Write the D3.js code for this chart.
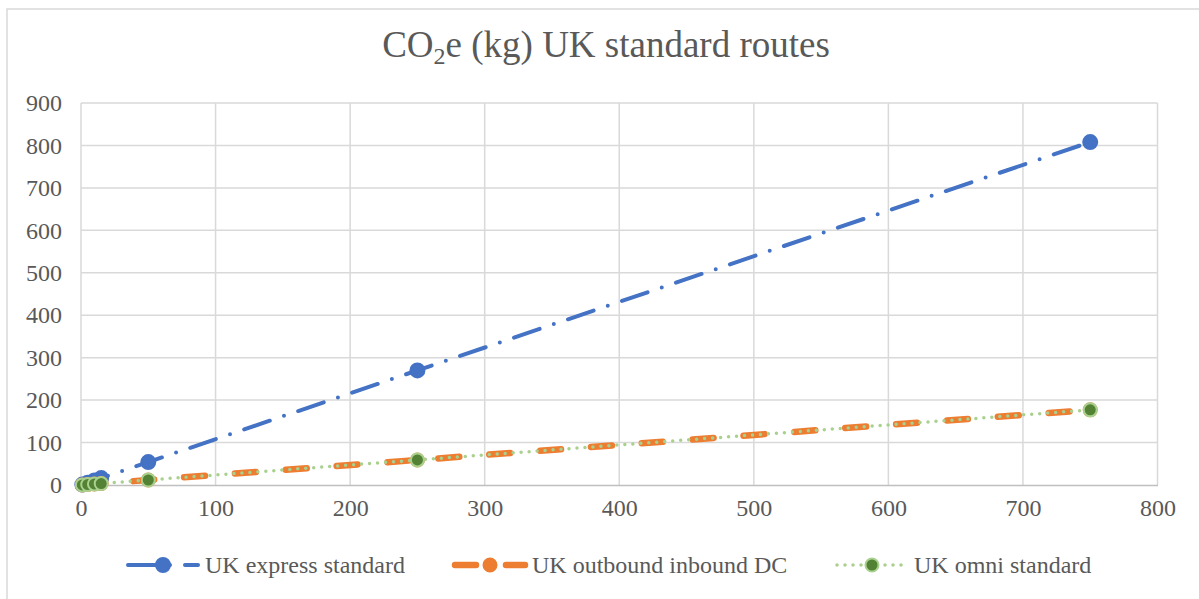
<!DOCTYPE html>
<html>
<head>
<meta charset="utf-8">
<script src="https://cdn.jsdelivr.net/npm/d3@7"></script>
<style>
  html, body { margin: 0; padding: 0; background: #fff; }
  svg { display: block; }
  svg text { font-family: 'Liberation Serif', 'Times New Roman', serif; }
</style>
</head>
<body>
<svg id="chart" width="1199" height="599"></svg>
<script>
// Shipment weight (kg) for each route calculation
const weights = [1, 5, 10, 15, 50, 250, 750];
// CO2e (kg) per route type
const expressStandard = [1.1, 5.4, 10.8, 16.2, 54, 270, 808];
const outboundInboundDC = [0.24, 1.2, 2.4, 3.5, 11.8, 59, 177];
const omniStandard = [0.24, 1.2, 2.4, 3.5, 11.8, 59, 177];
const seriesNames = ["UK express standard", "UK outbound inbound DC", "UK omni standard"];
const xTicks = [0, 100, 200, 300, 400, 500, 600, 700, 800];
const yTicks = [0, 100, 200, 300, 400, 500, 600, 700, 800, 900];

const svg = d3.select("#chart");
const W = 1199, H = 599;
const font = "'Liberation Serif', 'Times New Roman', serif";
const textColor = "#595959";

// outer chart frame
svg.append("rect").attr("x", 7).attr("y", 9).attr("width", W).attr("height", H)
  .attr("fill", "#fff").attr("stroke", "#d9d9d9").attr("stroke-width", 1.5);

const plot = { left: 81, right: 1157.5, top: 103, bottom: 485 };
const x = d3.scaleLinear().domain([0, 800]).range([plot.left, plot.right]);
const y = d3.scaleLinear().domain([0, 900]).range([plot.bottom, plot.top]);

// title
const title = svg.append("text").attr("x", 606).attr("y", 57)
  .attr("text-anchor", "middle").style("font-family", font).attr("font-size", 37)
  .attr("fill", textColor);
title.append("tspan").text("CO");
title.append("tspan").attr("font-size", 24).attr("dy", 7).text("2");
title.append("tspan").attr("dy", -7).text("e (kg) UK standard routes");

// gridlines
const grid = svg.append("g");
grid.selectAll("line.h").data(yTicks.filter(d => d > 0)).join("line")
  .attr("x1", plot.left).attr("x2", plot.right)
  .attr("y1", d => y(d)).attr("y2", d => y(d))
  .attr("stroke", "#d9d9d9").attr("stroke-width", 1.5);
grid.selectAll("line.v").data(xTicks).join("line")
  .attr("y1", plot.top).attr("y2", plot.bottom)
  .attr("x1", d => x(d)).attr("x2", d => x(d))
  .attr("stroke", "#d9d9d9").attr("stroke-width", 1.5);

// x axis baseline and labels
const xAxis = d3.axisBottom(x).tickValues(xTicks).tickSize(0).tickPadding(14);
const gx = svg.append("g").attr("transform", `translate(0,${plot.bottom})`).call(xAxis)
  .attr("font-family", font);
gx.select(".domain").attr("stroke", "#bfbfbf").attr("stroke-width", 1.5);
gx.selectAll("text").style("font-family", font).attr("font-size", 24).attr("fill", textColor);

const yAxis = d3.axisLeft(y).tickValues(yTicks).tickSize(0).tickPadding(19);
const gy = svg.append("g").attr("transform", `translate(${plot.left},0)`).call(yAxis)
  .attr("font-family", font);
gy.select(".domain").remove();
gy.selectAll("text").style("font-family", font).attr("font-size", 24).attr("fill", textColor);

// series styling
const styles = [
  { values: expressStandard, color: "#4472c4", width: 4, dash: "27 15 0 15", cap: "round",
    mFill: "#4472c4", mStroke: "#4472c4", r: 7 },
  { values: outboundInboundDC, color: "#ed7d31", width: 6.5, dash: "21 30", cap: "round",
    mFill: "#ed7d31", mStroke: "#ed7d31", r: 6.5 },
  { values: omniStandard, color: "#a9d18e", width: 3.5, dash: "0 8", cap: "round",
    mFill: "#548235", mStroke: "#a9d18e", r: 6.5 }
];

const line = d3.line().x(d => x(d[0])).y(d => y(d[1]));

styles.forEach(s => {
  const pts = weights.map((w, i) => [w, s.values[i]]);
  svg.append("path").datum(pts).attr("d", line)
    .attr("fill", "none").attr("stroke", s.color).attr("stroke-width", s.width)
    .attr("stroke-dasharray", s.dash).attr("stroke-linecap", s.cap);
  svg.append("g").selectAll("circle").data(pts).join("circle")
    .attr("cx", d => x(d[0])).attr("cy", d => y(d[1])).attr("r", s.r)
    .attr("fill", s.mFill).attr("stroke", s.mStroke).attr("stroke-width", 2);
});

// legend
const legendY = 565;
const legendX = [128, 455, 837];
styles.forEach((s, i) => {
  const g = svg.append("g").attr("transform", `translate(${legendX[i]},${legendY})`);
  g.append("line").attr("x1", 0).attr("x2", 70).attr("y1", 0).attr("y2", 0)
    .attr("stroke", s.color).attr("stroke-width", s.width)
    .attr("stroke-dasharray", s.dash).attr("stroke-linecap", s.cap);
  g.append("circle").attr("cx", 35).attr("cy", 0).attr("r", s.r)
    .attr("fill", s.mFill).attr("stroke", s.mStroke).attr("stroke-width", 2);
  g.append("text").attr("x", 77).attr("y", 0).attr("dy", "0.33em")
    .style("font-family", font).attr("font-size", 24).attr("fill", textColor)
    .text(seriesNames[i]);
});
</script>
</body>
</html>
